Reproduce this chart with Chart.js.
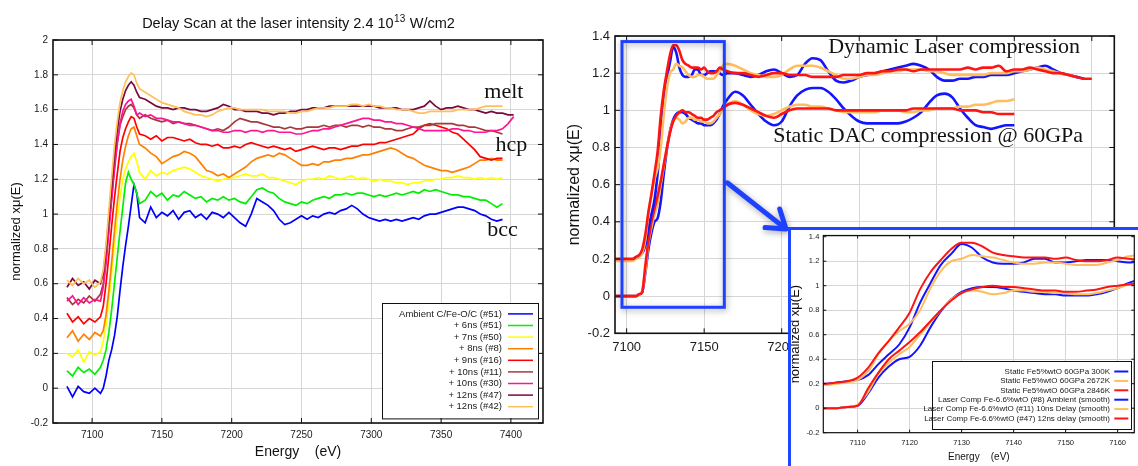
<!DOCTYPE html>
<html>
<head>
<meta charset="utf-8">
<script src="https://cdn.jsdelivr.net/npm/chart.js@4.4.1/dist/chart.umd.min.js"></script>
<style>
  body { margin: 0; width: 1138px; height: 466px; overflow: hidden; position: relative; background: #fff; }
  canvas { position: absolute; }
  #delay { left: 0; top: 0; }
  #compare { left: 560px; top: 0; }
  #zoom { left: 788px; top: 227px; background: #fff; }
  #zoomFrame { position: absolute; left: 788px; top: 227px; width: 350px; height: 239px; box-sizing: border-box;
               border-left: 3px solid #2046ff; border-top: 3px solid #2046ff; }
</style>
</head>
<body>
<canvas id="delay" width="560" height="466"></canvas>
<canvas id="compare" width="578" height="466"></canvas>
<canvas id="zoom" width="350" height="239"></canvas>
<div id="zoomFrame"></div>
<script>
// ---------- delay scan (left panel) ----------
const energyA = [
  7082, 7086, 7090, 7094, 7098, 7102, 7106,
  7108, 7110, 7112, 7114, 7116, 7118, 7120, 7122, 7124, 7126, 7128, 7130, 7132, 7134,
  7138, 7142, 7146, 7150, 7154, 7158, 7162, 7166, 7170, 7174,
  7178, 7182, 7186, 7190, 7194, 7198, 7202, 7206, 7210, 7214,
  7218, 7222, 7226, 7230, 7234, 7238, 7242, 7246, 7250, 7254,
  7258, 7262, 7266, 7270, 7274, 7278, 7282, 7286, 7290, 7294,
  7298, 7302, 7306, 7310, 7314, 7318, 7322, 7326, 7330, 7334,
  7338, 7342, 7346, 7350, 7354, 7358, 7362, 7366, 7370, 7374,
  7378, 7382, 7386, 7390, 7394, 7398, 7402
];

const ambient51 = [
  0.01, -0.05, 0.01, -0.02, -0.03, 0.00, -0.03,
  0.00, 0.07, 0.16, 0.22, 0.30, 0.41, 0.56, 0.70, 0.82, 0.93, 1.05, 1.17, 1.12, 0.98,
  0.95, 1.04, 0.98, 1.01, 0.99, 1.02, 0.97, 1.01, 1.02, 0.98,
  1.00, 0.97, 1.01, 1.00, 0.98, 1.01, 0.98, 0.95, 0.93, 1.00,
  1.09, 1.07, 1.05, 1.02, 0.97, 0.94, 0.95, 0.97, 0.99, 0.97,
  0.99, 0.98, 1.00, 1.01, 1.00, 1.02, 1.03, 1.05, 1.03, 1.00,
  0.98, 0.97, 0.96, 0.97, 0.96, 0.97, 0.96, 0.97, 0.98, 0.97,
  0.99, 1.00, 1.00, 1.01, 1.02, 1.03, 1.04, 1.04, 1.03, 1.02,
  1.00, 0.99, 0.97, 0.96, 0.97, null, null
];
const ns6 = [
  0.10, 0.07, 0.12, 0.09, 0.11, 0.08, 0.12,
  0.16, 0.22, 0.32, 0.45, 0.60, 0.75, 0.90, 1.04, 1.18, 1.24, 1.20, 1.17, 1.12, 1.06,
  1.08, 1.13, 1.10, 1.12, 1.08, 1.11, 1.10, 1.13, 1.11, 1.09,
  1.10, 1.07, 1.09, 1.08, 1.10, 1.08, 1.09, 1.07, 1.06, 1.10,
  1.14, 1.15, 1.13, 1.12, 1.09, 1.07, 1.06, 1.05, 1.07, 1.06,
  1.08, 1.09, 1.10, 1.09, 1.11, 1.11, 1.12, 1.11, 1.12, 1.12,
  1.11, 1.10, 1.11, 1.10, 1.11, 1.12, 1.11, 1.12, 1.13, 1.12,
  1.14, 1.13, 1.14, 1.13, 1.12, 1.11, 1.11, 1.10, 1.10, 1.09,
  1.08, 1.08, 1.06, 1.04, 1.06, null, null
];
const ns7 = [
  0.20, 0.18, 0.22, 0.15, 0.21, 0.19, 0.21,
  0.27, 0.36, 0.50, 0.66, 0.82, 0.97, 1.10, 1.20, 1.26, 1.30, 1.33, 1.35, 1.30, 1.24,
  1.20, 1.25, 1.22, 1.24, 1.23, 1.25, 1.26, 1.27, 1.26, 1.24,
  1.22, 1.21, 1.20, 1.19, 1.20, 1.21, 1.21, 1.22, 1.23, 1.22,
  1.22, 1.23, 1.21, 1.21, 1.20, 1.19, 1.18, 1.17, 1.19, 1.20,
  1.20, 1.21, 1.20, 1.22, 1.21, 1.20, 1.21, 1.22, 1.20, 1.21,
  1.20, 1.19, 1.20, 1.19, 1.19, 1.18, 1.18, 1.17, 1.18, 1.18,
  1.19, 1.19, 1.20, 1.20, 1.21, 1.21, 1.22, 1.21, 1.21, 1.20,
  1.21, 1.20, 1.21, 1.20, 1.21, null, null
];
const ns8 = [
  0.29, 0.33, 0.27, 0.31, 0.28, 0.32, 0.30,
  0.33, 0.42, 0.56, 0.72, 0.90, 1.06, 1.20, 1.31, 1.39, 1.45, 1.49, 1.50, 1.45, 1.40,
  1.38, 1.35, 1.33, 1.29, 1.31, 1.33, 1.34, 1.36, 1.35, 1.33,
  1.29, 1.25, 1.24, 1.22, 1.23, 1.21, 1.23, 1.25, 1.27, 1.30,
  1.32, 1.33, 1.34, 1.33, 1.35, 1.34, 1.32, 1.30, 1.28, 1.28,
  1.29, 1.28, 1.30, 1.30, 1.31, 1.31, 1.32, 1.32, 1.33, 1.34,
  1.34, 1.35, 1.36, 1.37, 1.38, 1.37, 1.35, 1.33, 1.32, 1.30,
  1.28, 1.27, 1.26, 1.25, 1.25, 1.24, 1.25, 1.26, 1.27, 1.29,
  1.31, 1.31, 1.32, 1.31, 1.31, null, null
];
const ns9 = [
  0.43, 0.38, 0.41, 0.37, 0.40, 0.38, 0.41,
  0.47, 0.60, 0.76, 0.93, 1.09, 1.23, 1.36, 1.44, 1.49, 1.53, 1.56, 1.55, 1.50, 1.46,
  1.45, 1.43, 1.45, 1.42, 1.44, 1.44, 1.43, 1.42, 1.43, 1.41,
  1.40, 1.40, 1.39, 1.40, 1.38, 1.38, 1.39, 1.38, 1.40, 1.41,
  1.40, 1.39, 1.38, 1.39, 1.38, 1.37, 1.38, 1.36, 1.37, 1.38,
  1.39, 1.38, 1.37, 1.38, 1.38, 1.37, 1.38, 1.39, 1.39, 1.40,
  1.40, 1.40, 1.41, 1.41, 1.42, 1.43, 1.44, 1.45, 1.46, 1.49,
  1.51, 1.52, 1.51, 1.50, 1.49, 1.47, 1.46, 1.43, 1.40, 1.37,
  1.33, 1.32, 1.31, 1.32, 1.32, null, null
];
const ns10a = [
  0.52, 0.48, 0.51, 0.49, 0.53, 0.50, 0.54,
  0.60, 0.74, 0.92, 1.10, 1.27, 1.41, 1.51, 1.56, 1.60, 1.62, 1.63, 1.61, 1.57, 1.55,
  1.57, 1.55, 1.54, 1.53, 1.54, 1.52, 1.53, 1.52, 1.52, 1.51,
  1.50, 1.49, 1.48, 1.49, 1.48, 1.50, 1.53, 1.55, 1.54, 1.53,
  1.53, 1.52, 1.51, 1.50, 1.50, 1.49, 1.50, 1.49, 1.49, 1.50,
  1.50, 1.50, 1.51, 1.50, 1.51, 1.51, 1.50, 1.51, 1.51, 1.50,
  1.51, 1.50, 1.50, 1.49, 1.49, 1.48, 1.48, 1.49, 1.50, 1.50,
  1.51, 1.51, 1.52, 1.52, 1.52, 1.52, 1.51, 1.51, 1.50, 1.50,
  1.49, 1.48, 1.48, 1.47, 1.46, null, null
];
const ns10b = [
  0.50, 0.53, 0.48, 0.52, 0.49, 0.51, 0.50,
  0.58, 0.72, 0.90, 1.08, 1.25, 1.40, 1.52, 1.59, 1.63, 1.65, 1.66, 1.62, 1.57, 1.58,
  1.56, 1.57, 1.55, 1.55, 1.54, 1.53, 1.53, 1.52, 1.51, 1.51,
  1.50, 1.49, 1.48, 1.48, 1.47, 1.47, 1.48, 1.48, 1.47, 1.48,
  1.48, 1.47, 1.48, 1.48, 1.47, 1.47, 1.47, 1.46, 1.46, 1.47,
  1.48, 1.48, 1.49, 1.49, 1.50, 1.51, 1.52, 1.53, 1.54, 1.55,
  1.55, 1.54, 1.54, 1.53, 1.53, 1.52, 1.52, 1.51, 1.50, 1.49,
  1.48, 1.48, 1.48, 1.48, 1.48, 1.49, 1.49, 1.48, 1.48, 1.47,
  1.47, 1.47, 1.48, 1.48, 1.49, 1.52, 1.56
];
const ns12a = [
  0.58, 0.63, 0.59, 0.61, 0.57, 0.62, 0.60,
  0.66, 0.80, 0.98, 1.16, 1.34, 1.48, 1.59, 1.66, 1.71, 1.74, 1.76, 1.74, 1.70, 1.67,
  1.66, 1.64, 1.62, 1.61, 1.61, 1.60, 1.61, 1.61, 1.60, 1.60,
  1.59, 1.59, 1.60, 1.61, 1.63, 1.62, 1.60, 1.60, 1.59, 1.59,
  1.59, 1.58, 1.58, 1.57, 1.58, 1.58, 1.59, 1.59, 1.60, 1.60,
  1.61, 1.61, 1.61, 1.62, 1.62, 1.62, 1.62, 1.62, 1.62, 1.62,
  1.62, 1.62, 1.61, 1.61, 1.61, 1.61, 1.60, 1.60, 1.60, 1.61,
  1.62, 1.65, 1.62, 1.60, 1.61, 1.61, 1.62, 1.61, 1.60, 1.60,
  1.59, 1.58, 1.59, 1.58, 1.58, 1.57, 1.57
];
const ns12b = [
  0.62, 0.59, 0.63, 0.60, 0.62, 0.58, 0.61,
  0.68, 0.83, 1.02, 1.21, 1.39, 1.53, 1.64, 1.71, 1.76, 1.79, 1.81, 1.80, 1.75, 1.72,
  1.70, 1.68, 1.66, 1.64, 1.63, 1.62, 1.61, 1.59, 1.58, 1.57,
  1.57, 1.56, 1.57, 1.59, 1.60, 1.61, 1.61, 1.60, 1.60, 1.60,
  1.60, 1.60, 1.59, 1.59, 1.59, 1.59, 1.58, 1.58, 1.59, 1.59,
  1.60, 1.61, 1.61, 1.61, 1.62, 1.62, 1.62, 1.63, 1.63, 1.62,
  1.63, 1.62, 1.62, 1.61, 1.61, 1.60, 1.60, 1.60, 1.59, 1.58,
  1.58, 1.59, 1.59, 1.59, 1.59, 1.59, 1.60, 1.60, 1.60, 1.60,
  1.61, 1.62, 1.62, 1.62, 1.62, null, null
];

const delaySeries = [ambient51, ns6, ns7, ns8, ns9, ns10a, ns10b, ns12a, ns12b];
const delayLabels = [
  'Ambient C/Fe-O/C (#51)', '+ 6ns (#51)', '+ 7ns (#50)', '+ 8ns (#8)', '+ 9ns (#16)',
  '+ 10ns (#11)', '+ 10ns (#30)', '+ 12ns (#47)', '+ 12ns (#42)'
];
const delayColors = ['#0000ff', '#00ee00', '#ffff00', '#ff8000', '#ff0000', '#a63a3a', '#ff1493', '#7a0a3c', '#ffc05a'];
const delayXTicks = [7100, 7150, 7200, 7250, 7300, 7350, 7400];
const delayYTicks = [-0.2, 0, 0.2, 0.4, 0.6, 0.8, 1, 1.2, 1.4, 1.6, 1.8, 2];
const delayTitle = ['Delay Scan at the laser intensity 2.4 10', '13', ' W/cm2'];
const phaseNotes = [
  { text: 'melt', e: 7381, v: 1.665 },
  { text: 'hcp', e: 7389, v: 1.364 },
  { text: 'bcc', e: 7383, v: 0.874 }
];

// ---------- static vs laser compression (right panels) ----------
const energyB = [
  7093, 7097, 7101, 7104,
  7106, 7108, 7110, 7112, 7114, 7116, 7118, 7120, 7122, 7124,
  7126, 7128, 7130, 7132, 7134, 7136, 7138, 7140, 7142, 7144,
  7146, 7148, 7150, 7152, 7154, 7156, 7158, 7160, 7162, 7165,
  7170, 7175, 7180, 7185, 7190, 7195, 7200, 7205, 7210, 7215,
  7220, 7225, 7230, 7235, 7240, 7245, 7250, 7255, 7260, 7265,
  7270, 7275, 7280, 7285, 7290, 7295, 7300, 7305, 7310, 7315,
  7320, 7325, 7330, 7335, 7340, 7345, 7350, 7355, 7360, 7365,
  7370, 7375, 7380, 7385, 7390, 7395, 7400
];
const static300K = [
  0.00, 0.00, 0.00, 0.00,
  0.00, 0.01, 0.02, 0.12, 0.25, 0.34, 0.40, 0.42, 0.51, 0.66,
  0.79, 0.89, 0.95, 0.98, 0.99, 0.99, 0.98, 0.96, 0.95, 0.94,
  0.93, 0.93, 0.92, 0.92, 0.92, 0.93, 0.95, 0.98, 1.02, 1.06,
  1.10, 1.08, 1.03, 0.98, 0.94, 0.92, 0.94, 1.02, 1.08, 1.11,
  1.12, 1.12, 1.10, 1.06, 1.01, 0.97, 0.94, 0.93, 0.93, 0.93,
  0.93, 0.93, 0.94, 0.96, 0.99, 1.04, 1.08, 1.09, 1.07, 1.01,
  0.96, 0.92, 0.91, 0.90, 0.91, 0.92, 0.92, null, null, null,
  null, null, null, null, null, null, null
];
const static2672K = [
  0.00, 0.00, 0.00, 0.00,
  0.00, 0.01, 0.03, 0.13, 0.28, 0.37, 0.44, 0.50, 0.60, 0.70,
  0.80, 0.89, 0.94, 0.96, 0.95, 0.93, 0.94, 0.96, 0.96, 0.95,
  0.95, 0.94, 0.94, 0.93, 0.93, 0.94, 0.96, 0.98, 1.01, 1.03,
  1.05, 1.03, 1.00, 0.98, 0.97, 0.98, 1.00, 1.02, 1.03, 1.03,
  1.02, 1.02, 1.01, 1.00, 0.99, 0.99, 0.99, 0.99, 0.99, 1.00,
  1.00, 1.00, 0.99, 0.99, 1.00, 1.00, 1.01, 1.01, 1.01, 1.02,
  1.02, 1.03, 1.03, 1.04, 1.05, 1.05, 1.06, null, null, null,
  null, null, null, null, null, null, null
];
const static2846K = [
  0.00, 0.00, 0.00, 0.00,
  0.00, 0.01, 0.02, 0.16, 0.29, 0.40, 0.47, 0.54, 0.62, 0.71,
  0.80, 0.88, 0.94, 0.97, 0.99, 1.00, 0.99, 0.99, 0.98, 0.97,
  0.96, 0.96, 0.95, 0.95, 0.96, 0.97, 0.99, 1.00, 1.01, 1.03,
  1.04, 1.03, 1.01, 0.99, 0.97, 0.96, 0.98, 1.00, 1.01, 1.01,
  1.01, 1.01, 1.01, 1.00, 1.00, 1.00, 1.00, 1.00, 1.00, 1.00,
  1.00, 1.00, 1.00, 1.01, 1.01, 1.01, 1.01, 1.01, 1.01, 1.00,
  1.00, 1.00, 0.99, 0.99, 0.98, 0.98, 0.98, null, null, null,
  null, null, null, null, null, null, null
];
const laserAmbient = [
  0.20, 0.20, 0.20, 0.20,
  0.21, 0.22, 0.23, 0.27, 0.36, 0.44, 0.52, 0.66, 0.86, 1.02,
  1.17, 1.26, 1.34, 1.31, 1.23, 1.19, 1.18, 1.18, 1.19, 1.22,
  1.22, 1.19, 1.19, 1.20, 1.21, 1.21, 1.21, 1.20, 1.19, 1.20,
  1.20, 1.19, 1.18, 1.19, 1.21, 1.22, 1.20, 1.18, 1.19, 1.25,
  1.28, 1.27, 1.21, 1.16, 1.15, 1.16, 1.18, 1.19, 1.20, 1.21,
  1.22, 1.23, 1.24, 1.25, 1.24, 1.22, 1.18, 1.16, 1.16, 1.17,
  1.17, 1.18, 1.18, 1.19, 1.19, 1.19, 1.20, 1.21, 1.22, 1.23,
  1.24, 1.22, 1.20, 1.19, 1.18, 1.17, null
];
const laser10ns = [
  0.19, 0.19, 0.19, 0.19,
  0.20, 0.21, 0.23, 0.30, 0.44, 0.55, 0.63, 0.69, 0.80, 0.98,
  1.12, 1.20, 1.22, 1.25, 1.24, 1.23, 1.21, 1.19, 1.18, 1.18,
  1.19, 1.19, 1.18, 1.17, 1.17, 1.17, 1.19, 1.21, 1.24, 1.25,
  1.24, 1.22, 1.20, 1.19, 1.18, 1.18, 1.19, 1.22, 1.24, 1.24,
  1.24, 1.23, 1.21, 1.19, 1.17, 1.17, 1.18, 1.19, 1.19, 1.20,
  1.21, 1.21, 1.22, 1.22, 1.22, 1.21, 1.21, 1.20, 1.19, 1.19,
  1.19, 1.19, 1.19, 1.20, 1.20, 1.20, 1.21, 1.21, 1.22, 1.23,
  1.22, 1.21, 1.20, 1.19, 1.18, null, null
];
const laser12ns = [
  0.20, 0.20, 0.20, 0.20,
  0.21, 0.22, 0.25, 0.33, 0.45, 0.55, 0.66, 0.78, 0.97, 1.11,
  1.21, 1.30, 1.35, 1.35, 1.32, 1.27, 1.25, 1.24, 1.23, 1.23,
  1.23, 1.22, 1.23, 1.21, 1.20, 1.20, 1.21, 1.23, 1.22, 1.21,
  1.20, 1.20, 1.19, 1.18, 1.19, 1.20, 1.20, 1.19, 1.19, 1.19,
  1.18, 1.18, 1.18, 1.18, 1.19, 1.19, 1.19, 1.20, 1.20, 1.21,
  1.21, 1.22, 1.22, 1.21, 1.22, 1.22, 1.22, 1.22, 1.22, 1.22,
  1.23, 1.22, 1.23, 1.23, 1.24, 1.21, 1.22, 1.22, 1.23, 1.22,
  1.21, 1.20, 1.20, 1.19, 1.18, 1.17, 1.17
];

const compareSeries = [static300K, static2672K, static2846K, laserAmbient, laser10ns, laser12ns];
const compareLabels = [
  'Static Fe5%wtO 60GPa 300K', 'Static Fe5%wtO 60GPa 2672K', 'Static Fe5%wtO 60GPa 2846K',
  'Laser Comp Fe-6.6%wtO (#8) Ambient (smooth)', 'Laser Comp Fe-6.6%wtO (#11) 10ns Delay (smooth)',
  'Laser Comp Fe-6.6%wtO (#47) 12ns delay (smooth)'
];
const compareColors = ['#1414ff', '#ffbd5e', '#ff1414', '#1414ff', '#ffbd5e', '#ff1414'];
const compareXTicks = [7100, 7150, 7200, 7250, 7300, 7350, 7400];
const compareYTicks = [-0.2, 0, 0.2, 0.4, 0.6, 0.8, 1, 1.2, 1.4];
const zoomXTicks = [7110, 7120, 7130, 7140, 7150, 7160];
const groupNotes = [
  { text: 'Dynamic Laser compression', e: 7230, v: 1.31 },
  { text: 'Static DAC compression @ 60GPa', e: 7194.5, v: 0.827 }
];
const zoomBox = { xMin: 7097, xMax: 7163, yMin: -0.06, yMax: 1.37, arrowAt: 0.61 };

// ---------- shared helpers ----------
const sans = '"Liberation Sans", Arial, sans-serif';
const narrow = '"Liberation Sans Narrow", "Arial Narrow", ' + sans;
const serif = '"Liberation Serif", "Times New Roman", serif';
const pts = (xs, ys) => xs.map((x, i) => ({ x, y: ys[i] }));
const fmt = v => String(Math.round(v * 100) / 100);
const fixTicks = list => scale => { scale.ticks = list.map(v => ({ value: v })); };

function axis(o) {
  return {
    type: 'linear', min: o.min, max: o.max,
    afterBuildTicks: fixTicks(o.ticks),
    afterFit: s => { if (o.w !== undefined) s.width = o.w; if (o.h !== undefined) s.height = o.h; },
    grid: { color: '#d6d6d6', lineWidth: 1, drawTicks: false },
    border: { display: false },
    ticks: { font: o.font, color: '#1a1a1a', padding: o.pad, maxRotation: 0, autoSkip: false, callback: fmt },
    title: o.title ? { display: true, text: o.title, font: o.titleFont, color: '#111', padding: o.titlePad } : { display: false }
  };
}

// black frame with small inward tics on all four sides
function frame(width, tic) {
  return {
    id: 'frame',
    afterDatasetsDraw(chart) {
      const { ctx, chartArea: a, scales: { x, y } } = chart;
      ctx.save();
      ctx.strokeStyle = '#111';
      ctx.lineWidth = 1;
      ctx.beginPath();
      x.ticks.forEach(t => {
        const px = x.getPixelForValue(t.value);
        ctx.moveTo(px, a.bottom); ctx.lineTo(px, a.bottom - tic);
        ctx.moveTo(px, a.top); ctx.lineTo(px, a.top + tic);
      });
      y.ticks.forEach(t => {
        const py = y.getPixelForValue(t.value);
        ctx.moveTo(a.left, py); ctx.lineTo(a.left + tic, py);
        ctx.moveTo(a.right, py); ctx.lineTo(a.right - tic, py);
      });
      ctx.stroke();
      ctx.lineWidth = width;
      ctx.strokeRect(a.left, a.top, a.right - a.left, a.bottom - a.top);
      ctx.restore();
    }
  };
}

// gnuplot style key: boxed, text right aligned, sample line on the right
function boxLegend(c) {
  return {
    id: 'boxLegend',
    afterDraw(chart) {
      const { ctx, chartArea: a } = chart;
      const sets = chart.data.datasets;
      const right = a.right - c.gap[0], bottom = a.bottom - c.gap[1];
      const h = c.pad * 2 + c.row * (sets.length - 1);
      const left = right - c.width, top = bottom - h;
      ctx.save();
      ctx.fillStyle = '#fff';
      ctx.fillRect(left, top, c.width, h);
      ctx.strokeStyle = '#111';
      ctx.lineWidth = 1;
      ctx.strokeRect(Math.round(left) + 0.5, Math.round(top) + 0.5, c.width, h);
      ctx.font = c.font;
      ctx.textAlign = 'right';
      ctx.textBaseline = 'middle';
      sets.forEach((d, i) => {
        const yy = top + c.pad + i * c.row;
        ctx.fillStyle = '#1a1a1a';
        ctx.fillText(d.label, right - c.textGap, yy);
        ctx.strokeStyle = d.borderColor;
        ctx.lineWidth = c.lineW;
        ctx.beginPath();
        ctx.moveTo(right - c.lineFrom, yy);
        ctx.lineTo(right - c.lineTo, yy);
        ctx.stroke();
      });
      ctx.restore();
    }
  };
}

function notes(list, font) {
  return {
    id: 'notes',
    afterDatasetsDraw(chart) {
      const { ctx, scales: { x, y } } = chart;
      ctx.save();
      ctx.font = font;
      ctx.fillStyle = '#111';
      ctx.textAlign = 'left';
      ctx.textBaseline = 'alphabetic';
      list.forEach(n => ctx.fillText(n.text, x.getPixelForValue(n.e), y.getPixelForValue(n.v)));
      ctx.restore();
    }
  };
}

const supTitle = {
  id: 'supTitle',
  afterDraw(chart) {
    const { ctx, chartArea: a } = chart;
    const [head, sup, tail] = delayTitle;
    const big = '14.5px ' + sans, small = '10px ' + sans;
    ctx.save();
    ctx.font = big;
    const w1 = ctx.measureText(head).width, w3 = ctx.measureText(tail).width;
    ctx.font = small;
    const w2 = ctx.measureText(sup).width;
    let x = (a.left + a.right) / 2 - (w1 + w2 + w3) / 2;
    const y = 28;
    ctx.fillStyle = '#111';
    ctx.textAlign = 'left';
    ctx.textBaseline = 'alphabetic';
    ctx.font = big; ctx.fillText(head, x, y); x += w1;
    ctx.font = small; ctx.fillText(sup, x + 0.5, y - 6); x += w2 + 1;
    ctx.font = big; ctx.fillText(tail, x, y);
    ctx.restore();
  }
};

// highlighted region and arrow pointing to the enlarged view
const zoomMark = {
  id: 'zoomMark',
  afterDatasetsDraw(chart) {
    const { ctx, scales: { x, y } } = chart;
    const l = x.getPixelForValue(zoomBox.xMin), r = x.getPixelForValue(zoomBox.xMax);
    const t = y.getPixelForValue(zoomBox.yMax), b = y.getPixelForValue(zoomBox.yMin);
    const blue = '#1e40ff';
    ctx.save();
    ctx.shadowColor = 'rgba(0,0,0,0.35)';
    ctx.shadowBlur = 6;
    ctx.shadowOffsetX = 1;
    ctx.shadowOffsetY = 2;
    ctx.strokeStyle = blue;
    ctx.lineWidth = 3;
    ctx.strokeRect(l, t, r - l, b - t);

    const box = document.getElementById('zoomFrame');
    const tipX = box.offsetLeft - chart.canvas.offsetLeft - 2;
    const tipY = box.offsetTop - chart.canvas.offsetTop + 2;
    const sx = r + 3, sy = y.getPixelForValue(zoomBox.arrowAt);
    const ang = Math.atan2(tipY - sy, tipX - sx);
    ctx.lineWidth = 5;
    ctx.lineCap = 'round';
    ctx.lineJoin = 'round';
    ctx.beginPath();
    ctx.moveTo(sx, sy);
    ctx.lineTo(tipX - 3 * Math.cos(ang), tipY - 3 * Math.sin(ang));
    ctx.moveTo(tipX - 21 * Math.cos(ang - 0.6), tipY - 21 * Math.sin(ang - 0.6));
    ctx.lineTo(tipX, tipY);
    ctx.lineTo(tipX - 21 * Math.cos(ang + 0.6), tipY - 21 * Math.sin(ang + 0.6));
    ctx.stroke();
    ctx.restore();
  }
};

Chart.defaults.font.family = sans;

// ---------- left: delay scan ----------
new Chart(document.getElementById('delay'), {
  type: 'line',
  data: {
    datasets: delaySeries.map((s, i) => ({
      label: delayLabels[i], data: pts(energyA, s), borderColor: delayColors[i],
      borderWidth: 1.7, pointRadius: 0, tension: 0, order: delaySeries.length - 1 - i, clip: 0
    }))
  },
  options: {
    responsive: false, animation: false,
    layout: { padding: { left: 0, right: 17, top: 40, bottom: 0 } },
    plugins: { legend: { display: false }, tooltip: { enabled: false } },
    scales: {
      x: axis({ min: 7072, max: 7423, ticks: delayXTicks, h: 43, pad: 6, font: { size: 10 },
                title: 'Energy    (eV)', titleFont: { size: 14 }, titlePad: { top: 0, bottom: 5 } }),
      y: axis({ min: -0.2, max: 2, ticks: delayYTicks, w: 53, pad: 5, font: { size: 10 },
                title: 'normalized xμ(E)', titleFont: { size: 13 }, titlePad: { top: 9, bottom: 0 } })
    }
  },
  plugins: [
    frame(1.6, 5), supTitle, notes(phaseNotes, '22px ' + serif),
    boxLegend({ gap: [5, 5], width: 156, pad: 11.3, row: 11.6, font: '9.5px ' + sans,
                textGap: 36, lineFrom: 30, lineTo: 5, lineW: 1.5 })
  ]
});

// ---------- right: full range comparison ----------
const compareSets = (width) => compareSeries.map((s, i) => ({
  label: compareLabels[i], data: pts(energyB, s), borderColor: compareColors[i],
  borderWidth: width, pointRadius: 0, cubicInterpolationMode: 'monotone',
  order: compareSeries.length - 1 - i, clip: 0
}));

new Chart(document.getElementById('compare'), {
  type: 'line',
  data: { datasets: compareSets(2.6) },
  options: {
    responsive: false, animation: false,
    layout: { padding: { left: 0, right: 23.7, top: 36, bottom: 0 } },
    plugins: { legend: { display: false }, tooltip: { enabled: false } },
    scales: {
      x: axis({ min: 7092.5, max: 7414.5, ticks: compareXTicks, h: 132.7, pad: 6.6, font: { family: narrow, size: 13 } }),
      y: axis({ min: -0.2, max: 1.4, ticks: compareYTicks, w: 55, pad: 5, font: { family: narrow, size: 13 },
                title: 'normalized xμ(E)', titleFont: { size: 16 }, titlePad: { top: 5.4, bottom: 0 } })
    }
  },
  plugins: [frame(1.6, 5), notes(groupNotes, '22px ' + serif), zoomMark]
});

// ---------- right: enlarged edge region ----------
new Chart(document.getElementById('zoom'), {
  type: 'line',
  data: { datasets: compareSets(2) },
  options: {
    responsive: false, animation: false,
    layout: { padding: { left: 0, right: 3.7, top: 4, bottom: 0 } },
    plugins: { legend: { display: false }, tooltip: { enabled: false } },
    scales: {
      x: axis({ min: 7103.4, max: 7163.2, ticks: zoomXTicks, h: 33.3, pad: 5.5, font: { family: narrow, size: 7.5 },
                title: 'Energy    (eV)', titleFont: { family: narrow, size: 10 }, titlePad: { top: 0, bottom: 2.6 } }),
      y: axis({ min: -0.2, max: 1.41, ticks: compareYTicks, w: 35.3, pad: 4, font: { family: narrow, size: 7.5 },
                title: 'normalized xμ(E)', titleFont: { size: 13 }, titlePad: { top: 0, bottom: 0 } })
    }
  },
  plugins: [
    frame(1.2, 3),
    boxLegend({ gap: [3.3, 3.7], width: 199, pad: 10.5, row: 9.4, font: '8px ' + narrow,
                textGap: 21, lineFrom: 16.7, lineTo: 2.7, lineW: 2 })
  ]
});
</script>
</body>
</html>
